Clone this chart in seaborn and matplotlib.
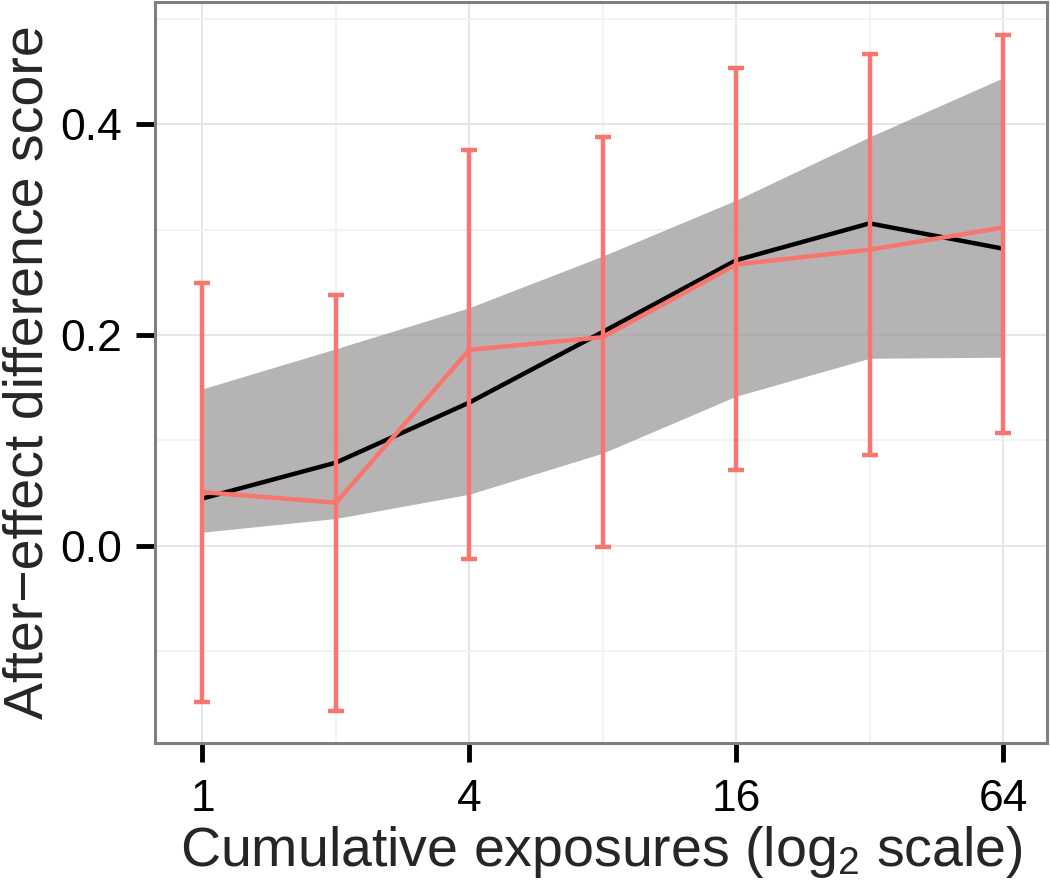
import numpy as np
import pandas as pd
import matplotlib
matplotlib.use("Agg")
import matplotlib.pyplot as plt
from matplotlib.ticker import FixedLocator, FixedFormatter, NullFormatter
import seaborn as sns

# ── data ─────────────────────────────────────────────────────────────────────
exposures   = [1, 2, 4, 8, 16, 32, 64]
obs_mean    = [0.051, 0.041, 0.186, 0.198, 0.267, 0.281, 0.302]
obs_lo      = [-0.148, -0.157, -0.012, -0.001, 0.072, 0.086, 0.107]
obs_hi      = [0.249, 0.238, 0.376, 0.388, 0.453, 0.467, 0.485]
fit_mean    = [0.045, 0.079, 0.136, 0.203, 0.271, 0.306, 0.282]
fit_lo      = [0.013, 0.026, 0.049, 0.088, 0.142, 0.178, 0.179]
fit_hi      = [0.149, 0.187, 0.226, 0.275, 0.328, 0.388, 0.444]

x_ticks     = [1, 4, 16, 64]
x_minor     = [2, 8, 32]
y_ticks     = [0.0, 0.2, 0.4]
y_minor     = [-0.1, 0.1, 0.3, 0.5]

df = pd.DataFrame(dict(x=exposures, obs=obs_mean, lo=obs_lo, hi=obs_hi,
                       fit=fit_mean, flo=fit_lo, fhi=fit_hi))

RED = "#F8766D"

sns.set_theme(style="whitegrid")
plt.rcParams["font.family"] = ["Liberation Sans", "DejaVu Sans"]
plt.rcParams["mathtext.fontset"] = "custom"
plt.rcParams["mathtext.rm"] = "Liberation Sans"
plt.rcParams["mathtext.default"] = "regular"

fig = plt.figure(figsize=(10.5, 8.81), dpi=100)
ax = fig.add_axes([155 / 1050, 1 - 743 / 881, (1047 - 155) / 1050, (743 - 2) / 881])

ax.set_xscale("log", base=2)

# ── model ribbon + fitted line ───────────────────────────────────────────────
ax.fill_between(df["x"], df["flo"], df["fhi"], color="#9A9698", alpha=0.72,
                linewidth=0, zorder=2)
sns.lineplot(data=df, x="x", y="fit", color="black", linewidth=3.2, ax=ax,
             zorder=3)

# ── observed means with CIs ──────────────────────────────────────────────────
ax.errorbar(df["x"], df["obs"],
            yerr=[df["obs"] - df["lo"], df["hi"] - df["obs"]],
            fmt="none", ecolor=RED, elinewidth=3.2, capsize=5.5, capthick=3.2,
            zorder=4)
sns.lineplot(data=df, x="x", y="obs", color=RED, linewidth=3.2, ax=ax, zorder=5)

# ── axes, grid, ticks ────────────────────────────────────────────────────────
ax.set_xlim(2 ** -0.356, 2 ** 6.33)
ax.set_ylim(-0.187, 0.516)

ax.xaxis.set_major_locator(FixedLocator(x_ticks))
ax.xaxis.set_major_formatter(FixedFormatter([str(v) for v in x_ticks]))
ax.xaxis.set_minor_locator(FixedLocator(x_minor))
ax.xaxis.set_minor_formatter(NullFormatter())
ax.yaxis.set_major_locator(FixedLocator(y_ticks))
ax.yaxis.set_major_formatter(FixedFormatter([f"{v:.1f}" for v in y_ticks]))
ax.yaxis.set_minor_locator(FixedLocator(y_minor))
ax.yaxis.set_minor_formatter(NullFormatter())

ax.grid(which="major", color="#E6E6E6", linewidth=1.4)
ax.grid(which="minor", color="#F3F3F3", linewidth=1.4)
ax.set_axisbelow(True)

ax.tick_params(which="major", direction="out", length=14, width=3.5,
               color="black", labelsize=32, labelcolor="black",
               bottom=True, left=True)
ax.tick_params(axis="x", which="major", pad=12)
ax.tick_params(axis="y", which="major", pad=10)
ax.tick_params(which="minor", length=0)

for s in ax.spines.values():
    s.set_color("#7F7F7F")
    s.set_linewidth(2.2)

ax.set_xlabel("Cumulative exposures (log$_2$ scale)", fontsize=40, labelpad=3)
ax.set_ylabel("After\u2212effect difference score", fontsize=40, labelpad=4)

fig.savefig("out.png", dpi=100)
